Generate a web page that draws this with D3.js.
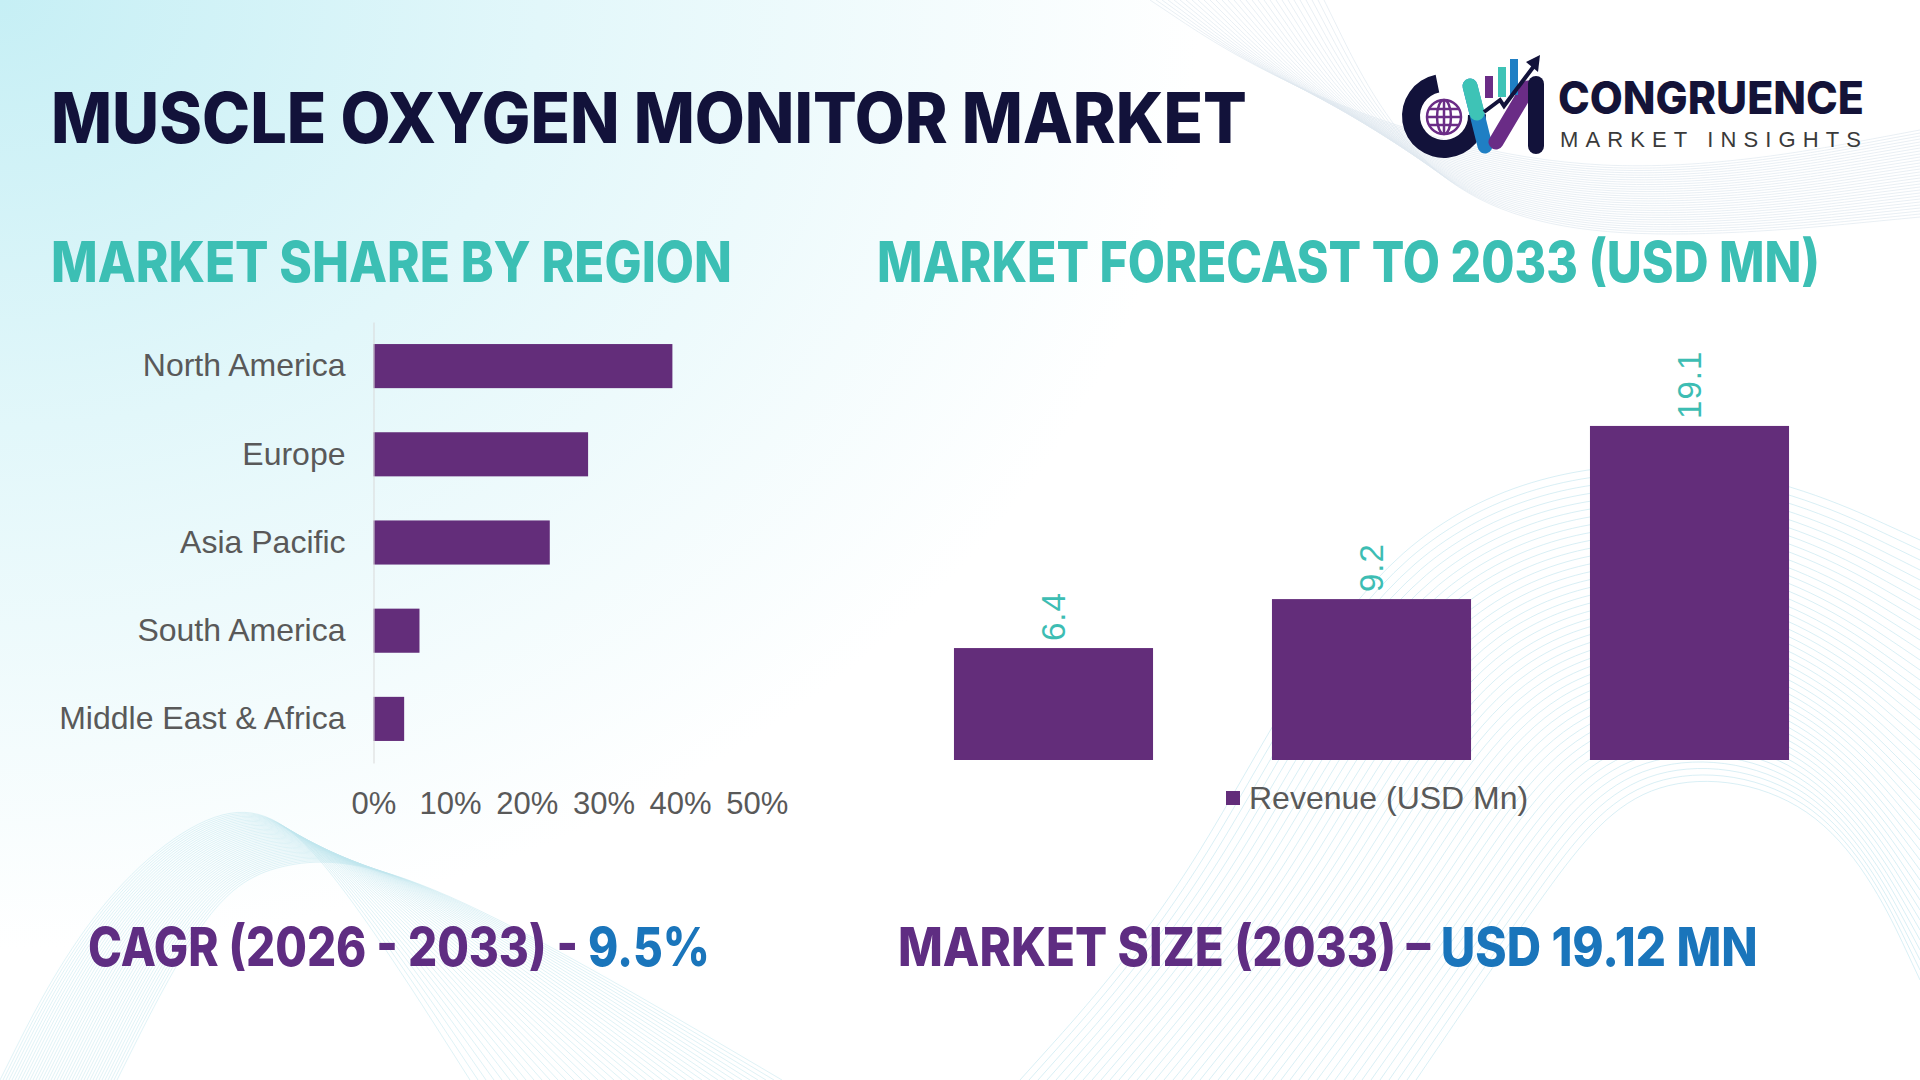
<!DOCTYPE html>
<html>
<head>
<meta charset="utf-8">
<script src="https://cdn.jsdelivr.net/npm/d3@7"></script>
<style>
  html, body { margin: 0; padding: 0; background: #fff; }
  svg { display: block; }
  .lbl { font-family: "Liberation Sans", Arial, sans-serif; }
  .head { font-family: Inter, "Open Sans", sans-serif; font-weight: 800; }
</style>
</head>
<body>
<svg id="chart" width="1920" height="1080"></svg>
<script>
// region share (%)
const regions = ["North America", "Europe", "Asia Pacific", "South America", "Middle East & Africa"];
const shares = [39, 28, 23, 6, 4];
const shareTicks = [0, 10, 20, 30, 40, 50];

// revenue forecast (USD Mn)
const years = ["2021", "2025", "2033"];
const revenue = [6.4, 9.2, 19.1];
const legendLabel = "Revenue (USD Mn)";

const purple = "#632d7a";
const teal = "#3cbfb4";
const navy = "#12123a";
const grey = "#595959";

const svg = d3.select("#chart");

// squeeze a text horizontally so it spans the given width
function fitText(x, y, width, size, parts, weight) {
  const t = svg.append("text").attr("class", "head")
    .attr("font-size", size).attr("font-weight", weight || 800);
  parts.forEach(p => t.append("tspan").attr("fill", p[1]).text(p[0]));
  const len = t.node().getComputedTextLength();
  t.attr("transform", "translate(" + x + "," + y + ") scale(" + (width / len) + ",1)");
  return t;
}

// ---- background ----
const defs = svg.append("defs");
const bg = defs.append("radialGradient").attr("id", "bgGrad")
  .attr("cx", 0).attr("cy", 0).attr("r", 1).attr("gradientUnits", "userSpaceOnUse")
  .attr("gradientTransform", "translate(0,0) scale(1200,950)");
bg.append("stop").attr("offset", 0).attr("stop-color", "#c6eff5");
bg.append("stop").attr("offset", 0.45).attr("stop-color", "#e2f7fa");
bg.append("stop").attr("offset", 1).attr("stop-color", "#ffffff");
svg.append("rect").attr("width", 1920).attr("height", 1080).attr("fill", "#fff");
svg.append("rect").attr("width", 1920).attr("height", 1080).attr("fill", "url(#bgGrad)");

const deco = svg.append("g").attr("fill", "none").attr("stroke-width", 1);
const curve = d3.line().curve(d3.curveBasis);

// top-right mesh
d3.range(30).forEach(i => {
  deco.append("path")
    .attr("stroke", "#dfe8ef").attr("opacity", 0.7)
    .attr("d", curve([[1150 + i * 6, 0], [1300 + i * 4, 100 + i * 3], [1600, 190 + i * 2], [1920, 130 + i * 3]]));
});
// bottom-right waves
d3.range(45).forEach(i => {
  deco.append("path")
    .attr("stroke", "#b9e2ec").attr("opacity", 0.55)
    .attr("d", curve([[1020 + i * 9, 1080], [1200 + i * 8, 880], [1380 + i * 6, 500 + i * 6], [1700 + i * 3, 440 + i * 8], [1920, 540 + i * 10]]));
});
// bottom-left ribbon
d3.range(40).forEach(i => {
  deco.append("path")
    .attr("stroke", "#c0e6ee").attr("opacity", 0.5)
    .attr("d", curve([[0 + i * 3, 1080], [90 + i * 3, 900], [240 + i, 780 + i * 2], [330 + i * 2, 860], [470 + i * 8, 1080]]));
});

// ---- title ----
fitText(51, 143, 1196, 70, [["MUSCLE OXYGEN MONITOR MARKET", navy]]);

// ---- logo ----
const logo = svg.append("g");
logo.append("path")
  .attr("d", d3.arc()({innerRadius: 24, outerRadius: 42, startAngle: 0.75 * Math.PI / 2 + 0.35, endAngle: 2 * Math.PI - 0.2}))
  .attr("transform", "translate(1444,116)").attr("fill", navy);
const globe = logo.append("g").attr("transform", "translate(1444,117)")
  .attr("fill", "none").attr("stroke", "#6a2c86").attr("stroke-width", 2.5);
globe.append("circle").attr("r", 17);
globe.append("ellipse").attr("rx", 7).attr("ry", 17);
globe.append("line").attr("x1", -17).attr("x2", 17);
globe.append("line").attr("x1", -15).attr("x2", 15).attr("y1", -8).attr("y2", -8);
globe.append("line").attr("x1", -15).attr("x2", 15).attr("y1", 8).attr("y2", 8);
globe.append("line").attr("y1", -17).attr("y2", 17);
logo.append("line").attr("x1", 1470).attr("y1", 86).attr("x2", 1485).attr("y2", 146)
  .attr("stroke", "#1f7fc4").attr("stroke-width", 15).attr("stroke-linecap", "round");
logo.append("line").attr("x1", 1470).attr("y1", 86).attr("x2", 1477).attr("y2", 113)
  .attr("stroke", "#3ec3b6").attr("stroke-width", 15).attr("stroke-linecap", "round");
logo.append("line").attr("x1", 1496).attr("y1", 142).attr("x2", 1528).attr("y2", 88)
  .attr("stroke", "#6a2c86").attr("stroke-width", 15).attr("stroke-linecap", "round");
logo.append("line").attr("x1", 1536).attr("y1", 84).attr("x2", 1536).attr("y2", 146)
  .attr("stroke", navy).attr("stroke-width", 16).attr("stroke-linecap", "round");
logo.append("rect").attr("x", 1485).attr("y", 76).attr("width", 8).attr("height", 22).attr("fill", "#6a2c86");
logo.append("rect").attr("x", 1498).attr("y", 67).attr("width", 8).attr("height", 30).attr("fill", "#3ec3b6");
logo.append("rect").attr("x", 1510).attr("y", 59).attr("width", 8).attr("height", 36).attr("fill", "#1f7fc4");
logo.append("path").attr("d", "M1484,112 L1500,100 L1504,106 L1534,66")
  .attr("fill", "none").attr("stroke", navy).attr("stroke-width", 4);
logo.append("path").attr("d", "M1540,55 L1526,62 L1538,72 Z").attr("fill", navy);
fitText(1558, 114, 306, 45, [["CONGRUENCE", "#141338"]]);
svg.append("text").attr("class", "lbl")
  .attr("x", 1560).attr("y", 147).attr("font-size", 22).attr("fill", "#3a3a3a")
  .attr("textLength", 301).attr("lengthAdjust", "spacing")
  .text("MARKET INSIGHTS");

// ---- section heads ----
fitText(51, 282, 681, 56, [["MARKET SHARE BY REGION", teal]], 700);
fitText(877, 282, 943, 56, [["MARKET FORECAST TO 2033 (USD MN)", teal]], 700);

// ---- left: horizontal bars ----
const x = d3.scaleLinear().domain([0, 50]).range([373.5, 756.7]);
const y = d3.scaleBand().domain(regions).range([322, 763]).paddingInner(0.5).paddingOuter(0.25);

const left = svg.append("g");
left.selectAll("rect.bar")
  .data(regions)
  .enter().append("rect")
  .attr("class", "bar")
  .attr("x", x(0))
  .attr("y", d => y(d))
  .attr("width", (d, i) => x(shares[i]) - x(0))
  .attr("height", y.bandwidth())
  .attr("fill", purple);

const yAxis = left.append("g")
  .attr("transform", "translate(" + x(0) + ",0)")
  .call(d3.axisLeft(y).tickSize(0).tickPadding(28));
yAxis.select(".domain").attr("stroke", "#d9d9d9");
yAxis.selectAll("text").attr("class", "lbl").attr("font-size", 32).attr("fill", grey);

const xAxis = left.append("g")
  .attr("transform", "translate(0,763)")
  .call(d3.axisBottom(x).tickValues(shareTicks).tickFormat(d => d + "%").tickSize(0).tickPadding(29));
xAxis.select(".domain").remove();
xAxis.selectAll("text").attr("class", "lbl").attr("font-size", 31).attr("fill", grey);

// ---- right: vertical bars ----
const xr = d3.scaleBand().domain(years).range([894.5, 1848.5]).paddingInner(0.374).paddingOuter(0.187);
const yr = d3.scaleLinear().domain([0, 20]).range([760, 760 - 20 * 17.49]);

const right = svg.append("g");
right.selectAll("rect.bar")
  .data(years)
  .enter().append("rect")
  .attr("class", "bar")
  .attr("x", d => xr(d))
  .attr("y", (d, i) => yr(revenue[i]))
  .attr("width", xr.bandwidth())
  .attr("height", (d, i) => yr(0) - yr(revenue[i]))
  .attr("fill", purple);

right.selectAll("text.val")
  .data(years)
  .enter().append("text")
  .attr("class", "lbl val")
  .attr("transform", (d, i) => "translate(" + (xr(d) + xr.bandwidth() / 2) + "," + (yr(revenue[i]) - 7) + ") rotate(-90)")
  .attr("dominant-baseline", "central")
  .attr("font-size", 33).attr("letter-spacing", 1).attr("fill", "#3dbdb3")
  .text((d, i) => revenue[i].toFixed(1));

right.append("rect").attr("x", 1226).attr("y", 791).attr("width", 14).attr("height", 14).attr("fill", purple);
right.append("text").attr("class", "lbl")
  .attr("x", 1249).attr("y", 798).attr("dominant-baseline", "central")
  .attr("font-size", 32).attr("fill", grey).text(legendLabel);

// ---- bottom stats ----
const statPurple = "#5f2d82", statBlue = "#1a75bb";
fitText(88, 966, 622, 54, [["CAGR (2026 - 2033) - ", statPurple], ["9.5%", statBlue]]);
fitText(898, 966, 860, 54, [["MARKET SIZE (2033) – ", statPurple], ["USD 19.12 MN", statBlue]]);
</script>
</body>
</html>
